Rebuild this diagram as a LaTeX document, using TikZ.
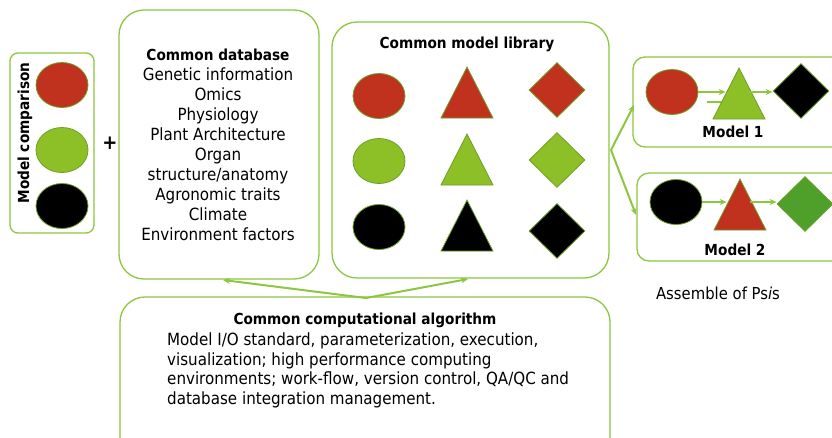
\documentclass[tikz,border=0pt]{standalone}
\usepackage{fontspec}
\setmainfont{DejaVu Sans Condensed}
\usetikzlibrary{shapes.geometric,arrows.meta}

\definecolor{boxgreen}{HTML}{8DC63F}
\definecolor{shapered}{HTML}{C1321E}
\definecolor{shapegreen}{HTML}{8DC026}
\definecolor{deepgreen}{HTML}{4FA02A}
\definecolor{edgegreen}{HTML}{6E9E2A}

\tikzset{
  panel/.style={draw=boxgreen, line width=1.3pt, fill=white},
  oval/.style={ellipse, draw=edgegreen, line width=0.8pt, minimum width=52pt, minimum height=45pt, inner sep=0pt},
  tri/.style={isosceles triangle, isosceles triangle stretches, shape border rotate=90, anchor=apex,
              draw=edgegreen, line width=0.8pt, minimum width=52pt, minimum height=51pt, inner sep=0pt},
  rhomb/.style={diamond, draw=edgegreen, line width=0.8pt, minimum width=56pt, minimum height=55pt, inner sep=0pt},
  flow/.style={draw=boxgreen, line width=2pt, -{Stealth[length=7pt,width=6pt]}},
  stub/.style={draw=boxgreen, line width=2pt},
  txt/.style={font=\fontsize{16.8}{20}\selectfont, align=center, inner sep=0pt},
  ttl/.style={font=\fontsize{15.2}{20}\selectfont\bfseries, inner sep=0pt},
}

\begin{document}
\begin{tikzpicture}[x=1pt, y=-1pt]
\useasboundingbox (0,0) rectangle (832,437);

% ---- model comparison panel ----
\draw[panel, rounded corners=8pt] (10,53) rectangle (94,233);
\node[ttl, rotate=90] (cmp) at (25,133) {Model comparison};
\node[oval, fill=shapered]   (cmpa) at (62,85)  {};
\node[oval, fill=shapegreen] (cmpb) at (62,150) {};
\node[oval, fill=black]      (cmpc) at (62,206) {};
\node[ttl, font=\fontsize{20}{20}\selectfont\bfseries] (plus) at (110,143) {+};

% ---- common database ----
\draw[panel, rounded corners=25pt] (119,10) rectangle (319,279);
\node[txt] (db) at (218,145) {{\fontsize{15.2}{20}\selectfont\bfseries Common database}\\Genetic information\\Omics\\Physiology\\Plant Architecture\\Organ\\structure/anatomy\\Agronomic traits\\Climate\\Environment factors};
\coordinate (dbin) at (223,280);

% ---- common model library ----
\draw[panel, rounded corners=25pt] (332,22) rectangle (609,278);
\node[ttl] (lib) at (467,44) {Common model library};
\coordinate (libin) at (468,279);
\coordinate (libout) at (611,150);

\node[oval, fill=shapered]   (la) at (379,96)  {};
\node[oval, fill=shapegreen] (lb) at (379,161) {};
\node[oval, fill=black]      (lc) at (379,227) {};
\node[tri, fill=shapered]    (ta) at (467,66)  {};
\node[tri, fill=shapegreen]  (tb) at (467,133) {};
\node[tri, fill=black]       (tc) at (467,199) {};
\node[rhomb, fill=shapered]   (da) at (557,90)  {};
\node[rhomb, fill=shapegreen] (db2) at (557,160) {};
\node[rhomb, fill=black]      (dc) at (557,231) {};

% ---- assembled models ----
\draw[panel, rounded corners=12pt] (633,57) rectangle (850,147);
\draw[panel, rounded corners=12pt] (637,173) rectangle (850,261);
\coordinate (m1in) at (634,105);
\coordinate (m2in) at (636,215);
\draw[flow] (libout) -- (m1in);
\draw[flow] (libout) -- (m2in);

% model 1 chain
\coordinate (m1stub) at (707,102);
\coordinate (m1stubend) at (730,102);
\draw[stub] (m1stub) -- (m1stubend);
\node[oval, fill=shapered]   (m1a) at (672,92) {};
\node[tri, fill=shapegreen]  (m1b) at (739,67) {};
\node[rhomb, fill=black]     (m1c) at (801,91) {};
\draw[flow] (m1a.east) -- (m1a.east -| m1b.left side);
\draw[flow] (m1a.east -| m1b.right side) ++(-3,0) -- (m1a.east -| m1c.west);
\node[ttl] (m1) at (733,132) {Model 1};

% model 2 chain
\node[oval, fill=black]      (m2a) at (676,202) {};
\node[tri, fill=shapered]    (m2b) at (740,178) {};
\node[rhomb, fill=deepgreen] (m2c) at (805,204) {};
\draw[flow] (m2a.east) -- (m2a.east -| m2b.left side);
\draw[flow] (m2a.east -| m2b.right side) ++(-3,0) -- (m2a.east -| m2c.west);
\node[ttl] (m2) at (735,250) {Model 2};

\node[txt, font=\fontsize{16.5}{18}\selectfont] (psis) at (718,293) {Assemble of Ps{\itshape i}s};

% ---- common computational algorithm ----
\draw[panel, rounded corners=25pt] (120,297) rectangle (610,470);
\coordinate (algout) at (366,298);
\draw[flow] (algout) -- (dbin);
\draw[flow] (algout) -- (libin);
\node[ttl] (alg) at (365,320) {Common computational algorithm};
\node[txt, align=left, anchor=north west, font=\fontsize{16.8}{19.5}\selectfont] (algbody) at (167,333)
  {Model I/O standard, parameterization, execution,\\visualization; high performance computing\\environments; work-flow, version control, QA/QC and\\database integration management.};
\end{tikzpicture}
\end{document}
